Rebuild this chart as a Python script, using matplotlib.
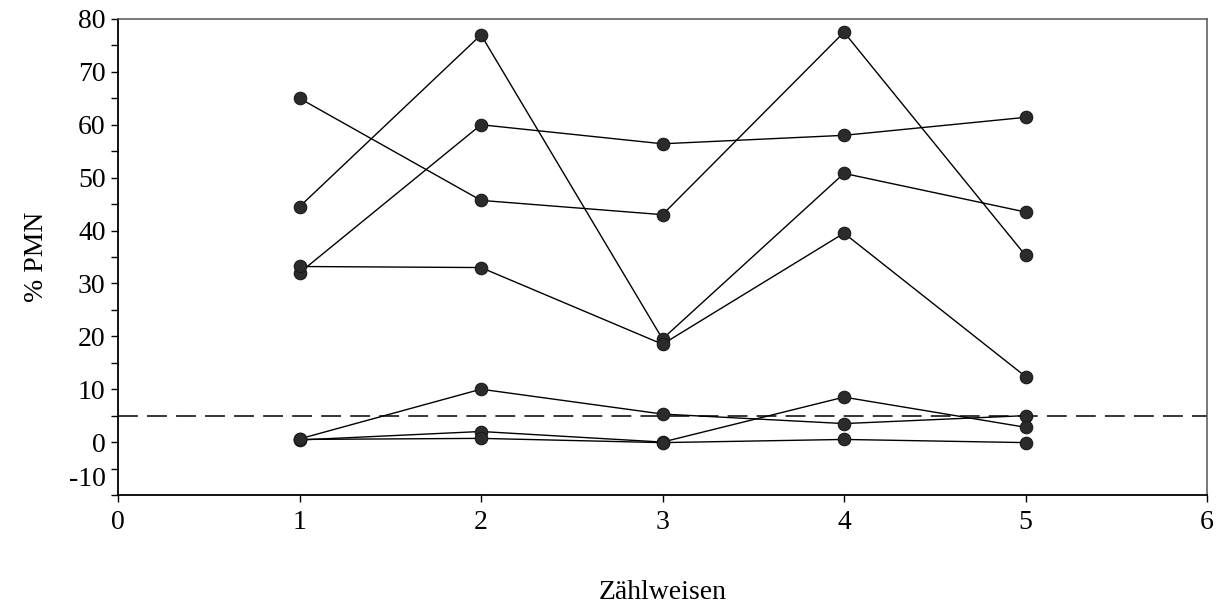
import matplotlib
matplotlib.use("Agg")
import matplotlib.pyplot as plt
import matplotlib.transforms as mtransforms
import numpy as np

plt.rcParams["font.family"] = ["Liberation Serif", "DejaVu Serif"]
plt.rcParams["axes.unicode_minus"] = False

# counting methods 1..5, one line per sample
methods = [1, 2, 3, 4, 5]
sample_a = [65.0, 45.7, 43.0, 77.5, 35.3]
sample_b = [44.5, 77.0, 19.5, 50.8, 43.5]
sample_c = [32.0, 60.0, 56.4, 58.0, 61.4]
sample_d = [33.2, 33.0, 18.5, 39.5, 12.4]
sample_e = [0.6, 10.0, 5.3, 3.5, 5.0]
sample_f = [0.4, 2.0, 0.0, 8.5, 2.8]
sample_g = [0.5, 0.7, -0.1, 0.5, -0.1]
samples = [sample_a, sample_b, sample_c, sample_d, sample_e, sample_f, sample_g]
threshold = 5.0

fig = plt.figure(figsize=(12.28, 6.08), dpi=100)
ax = fig.add_axes([0.0961, 0.1859, 0.8868, 0.7829])

for vals in samples:
    ax.plot(methods, vals, "-", color="black", lw=1.0, zorder=2)
    ax.plot(methods, vals, "o", ms=9, mfc="#2b2b2b", mec="#1a1a1a",
            mew=0.8, zorder=3)

ax.axhline(threshold, color="black", lw=1.1, dashes=(13, 6), zorder=1)

ax.set_xlim(0, 6)
ax.set_ylim(-10, 80)
ax.set_xticks(range(0, 7))
ax.set_yticks(range(-10, 81, 10))
ax.set_yticks(range(-5, 80, 10), minor=True)
ax.tick_params(axis="both", which="both", direction="out", length=5,
               width=1.0, labelsize=20, pad=4)
ax.tick_params(axis="x", pad=6)

for side in ("left", "bottom"):
    ax.spines[side].set_linewidth(1.3)
for side in ("top", "right"):
    ax.spines[side].set_color("#555555")
    ax.spines[side].set_linewidth(1.1)

# the lowest label sits a little above its tick
fig.canvas.draw()
low = ax.get_yticklabels()[0]
low.set_transform(low.get_transform() +
                  mtransforms.ScaledTranslation(0, 13 / 72, fig.dpi_scale_trans))

ax.set_ylabel("% PMN", fontsize=20, labelpad=14)
ax.text(0.5, -0.205, "Zählweisen", transform=ax.transAxes,
        ha="center", va="center", fontsize=20)

fig.savefig("out.png", dpi=100)
